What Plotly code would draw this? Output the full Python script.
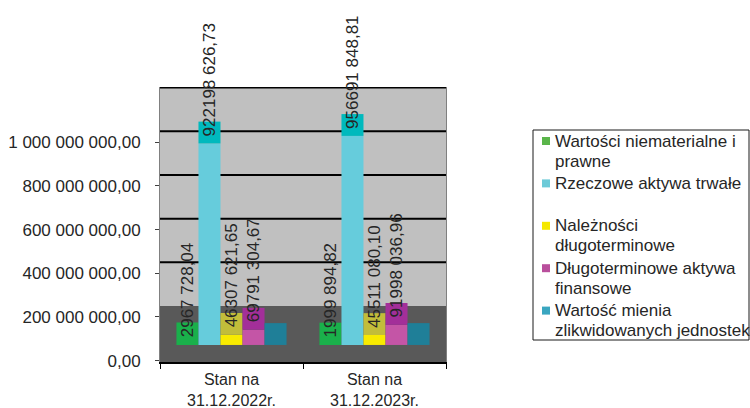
import plotly.graph_objects as go

# ---- data -------------------------------------------------------------
categories = ["Stan na<br>31.12.2022r.", "Stan na<br>31.12.2023r."]

legend_lines = [
    ["Wartości niematerialne i", "prawne"],
    ["Rzeczowe aktywa trwałe", ""],
    ["Należności", "długoterminowe"],
    ["Długoterminowe aktywa", "finansowe"],
    ["Wartość mienia", "zlikwidowanych jednostek"],
]

wartosci_niematerialne = [2967728.04, 1999894.82]
rzeczowe_aktywa = [922198626.73, 956691848.81]
naleznosci = [46307621.65, 45511080.10]
aktywa_finansowe = [69791304.67, 91998036.96]
mienie_zlikwidowane = [0.0, 0.0]

y_ticks = [0, 200e6, 400e6, 600e6, 800e6, 1000e6]

# ---- style ------------------------------------------------------------
series = [wartosci_niematerialne, rzeczowe_aktywa, naleznosci,
          aktywa_finansowe, mienie_zlikwidowane]
front_colors = ["#1ab04b", "#66ccdc", "#f8ea00", "#c455a6", "#1f7f98"]
top_colors = ["#1ab04b", "#00b9bd", "#c2bd3a", "#a32f99", "#1f7f98"]
legend_colors = ["#5ab54a", "#6ccad8", "#f5e800", "#b94f9c", "#3aa6c0"]

FONT = "Liberation Sans, Arial, sans-serif"
TEXT = "#262626"
DEPTH = 250e6        # back wall offset of the pseudo-3D box
BASE = 72e6          # front edge of the floor where bar faces start
TOP_FACE = 100e6     # visible height of a bar's top face
Y_RANGE = [-6e6, 1252.6e6]
BARGAP = 0.23

W, H = 750, 408
ML, MR, MT, MB = 160, 304, 87, 46
PW, PH = W - ML - MR, H - MT - MB


def px_x(px):
    return (px - ML) / PW


def px_y(py):
    return (H - MB - py) / PH


def fmt_value(v):
    cents = round(v * 100)
    whole, frac = divmod(cents, 100)
    head, tail = divmod(whole, 1000)
    return f"{head} {tail:03d},{frac:02d}" if head else f"{tail},{frac:02d}"


fig = go.Figure()

for i, vals in enumerate(series):
    fig.add_trace(go.Bar(
        x=categories, y=vals, base=[BASE] * len(vals),
        marker=dict(color=front_colors[i], line=dict(width=0)),
        offsetgroup=str(i), showlegend=False, hoverinfo="skip"))
    fig.add_trace(go.Bar(
        x=categories, y=[TOP_FACE] * len(vals),
        base=[BASE + v for v in vals],
        marker=dict(color=top_colors[i], line=dict(width=0)),
        offsetgroup=str(i), showlegend=False, hoverinfo="skip"))

# rotated value labels above each bar
n = len(series)
bar_w = (1 - BARGAP) / n
annotations = []
for i, vals in enumerate(series):
    for j, v in enumerate(vals):
        if v == 0:
            continue
        annotations.append(dict(
            x=j + (i - (n - 1) / 2) * bar_w, y=BASE + v, xref="x", yref="y",
            text=fmt_value(v), textangle=-90, showarrow=False,
            xanchor="center", yanchor="bottom", yshift=5,
            font=dict(family=FONT, size=17, color=TEXT)))

# floor and back-wall grid lines
shapes = [dict(type="rect", xref="x domain", yref="y", x0=0, x1=1,
               y0=Y_RANGE[0], y1=DEPTH, fillcolor="#595959",
               line=dict(width=0), layer="below")]
for t in y_ticks[1:]:
    shapes.append(dict(type="line", xref="x domain", yref="y", x0=0, x1=1,
                       y0=t + DEPTH, y1=t + DEPTH,
                       line=dict(color="#000000", width=2), layer="below"))

# legend box
shapes.append(dict(type="rect", xref="paper", yref="paper",
                   x0=px_x(533), x1=px_x(749), y0=px_y(340), y1=px_y(130),
                   line=dict(color="#1a1a1a", width=1), fillcolor="white"))
for k, lines in enumerate(legend_lines):
    cy = 141 + 42.4 * k
    shapes.append(dict(type="rect", xref="paper", yref="paper",
                       x0=px_x(542), x1=px_x(550), y0=px_y(cy + 4), y1=px_y(cy - 4),
                       line=dict(width=0), fillcolor=legend_colors[k]))
    for m, line in enumerate(lines):
        if not line:
            continue
        annotations.append(dict(
            x=px_x(553), y=px_y(cy + 20 * m), xref="paper", yref="paper",
            text=line, showarrow=False, xanchor="left", yanchor="middle",
            font=dict(family=FONT, size=17, color=TEXT)))

fig.update_layout(
    width=W, height=H,
    margin=dict(l=ML, r=MR, t=MT, b=MB),
    paper_bgcolor="white", plot_bgcolor="#c0c0c0",
    barmode="group", bargap=BARGAP, bargroupgap=0,
    showlegend=False, separators=", ",
    font=dict(family=FONT, size=17, color=TEXT),
    shapes=shapes, annotations=annotations,
    xaxis=dict(type="category", range=[-0.5, 1.5], showgrid=False,
               automargin=False,
               showline=True, linecolor="#000000", linewidth=2,
               ticks="outside", tickson="boundaries", ticklen=5,
               tickcolor="#000000", tickwidth=1, ticklabelstandoff=2,
               tickfont=dict(family=FONT, size=16, color=TEXT)),
    yaxis=dict(range=Y_RANGE, tickvals=y_ticks, tickformat=",.2f",
               automargin=False,
               showgrid=False, zeroline=False,
               showline=True, linecolor="#808080", linewidth=1, mirror=True,
               ticks="outside", ticklen=4, tickcolor="#404040",
               ticklabelstandoff=11,
               tickfont=dict(family=FONT, size=17, color=TEXT)),
)

fig.write_html("out.html")
